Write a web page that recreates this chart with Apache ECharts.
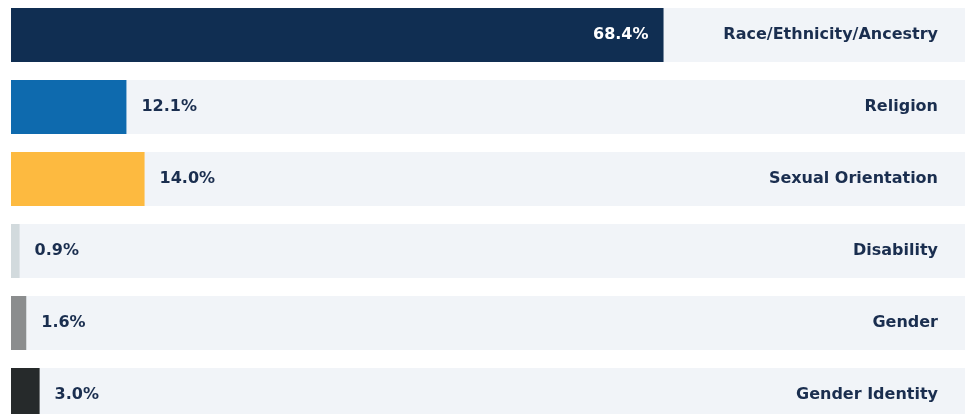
<!DOCTYPE html>
<html><head><meta charset="utf-8">
<script src="https://cdn.jsdelivr.net/npm/echarts@6/dist/echarts.min.js"></script>
<style>html,body{margin:0;padding:0;background:#fff;overflow:hidden;width:971px;height:414px}#c{position:absolute;left:0;top:-1px;width:971px;height:432px}</style>
</head><body><div id="c"></div>
<script>
const categories = ["Race/Ethnicity/Ancestry","Religion","Sexual Orientation","Disability","Gender","Gender Identity"];
const values = [68.4, 12.1, 14.0, 0.9, 1.6, 3.0];
const colors = ["#102e52","#0e6aae","#fdba40","#d2dadd","#8b8d8e","#262a2b"];
const labelInside = [true,false,false,false,false,false];

const FONT = "DejaVu Sans";
const TXT = "#1a2e4f";
const chart = echarts.init(document.getElementById('c'));
chart.setOption({
  animation:false,
  grid:{left:11,right:6,top:0,bottom:0},
  xAxis:{type:'value',min:0,max:100,show:false},
  yAxis:{type:'category',data:categories,inverse:true,show:false},
  series:[
    {type:'bar',barWidth:54,showBackground:true,backgroundStyle:{color:'#f1f4f8'},
     data:values.map((v,i)=>({value:v,itemStyle:{color:colors[i]},
       label:{show:true,position:labelInside[i]?'insideRight':'right',distance:15,
         color:labelInside[i]?'#ffffff':TXT,fontFamily:FONT,fontSize:16,fontWeight:'bold',
         formatter:p=>p.value.toFixed(1)+'%'}}))},
    {type:'bar',barWidth:54,barGap:'-100%',silent:true,
     data:categories.map(c=>100),itemStyle:{color:'rgba(0,0,0,0)'},
     label:{show:true,position:'insideRight',distance:27,color:TXT,fontFamily:FONT,fontSize:16,fontWeight:'bold',
       formatter:p=>p.name}}
  ]
});
</script></body></html>
